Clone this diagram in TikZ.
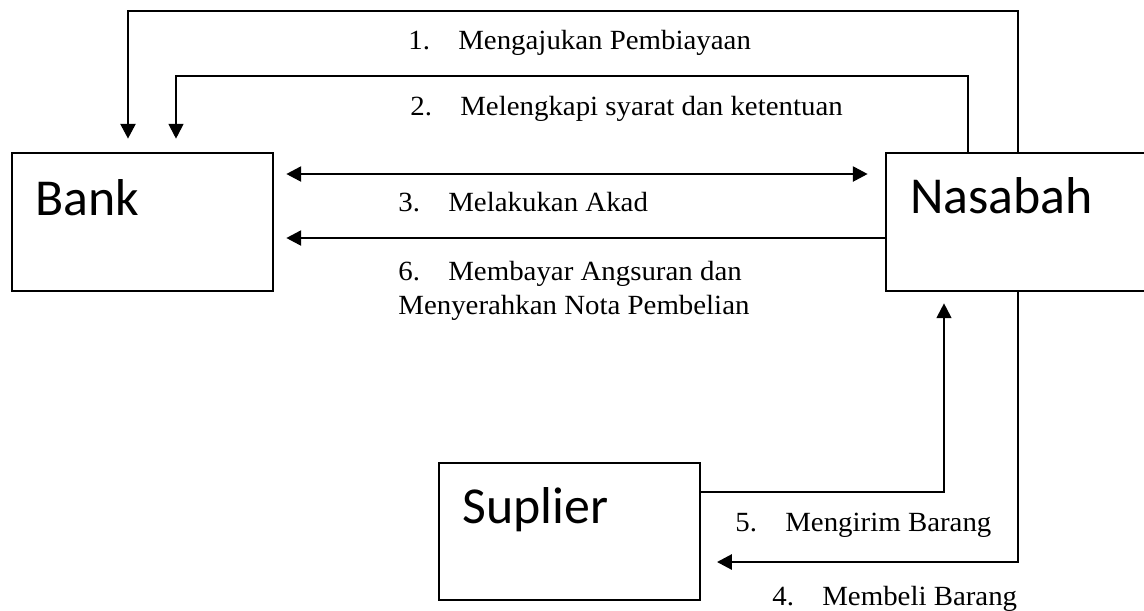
\documentclass[tikz,border=0pt]{standalone}
\usepackage{fontspec}
\newfontfamily\boxfont{Carlito}
\newfontfamily\lblfont{Liberation Serif}[FakeStretch=1.04]
\usetikzlibrary{arrows.meta}
\newcommand{\steplbl}[2]{\makebox[1cm][l]{#1}#2}

\begin{document}
\begin{tikzpicture}[x=0.02cm, y=-0.02cm, >={Triangle[length=8.5pt,width=8.5pt]}]
  \tikzset{party/.style = {shape=rectangle, draw, line width=1.5pt, minimum width=5.22cm, minimum height=2.76cm, inner sep=0pt}} % kotak pihak
  \tikzset{partytext/.style = {anchor=base west, inner sep=0pt, font=\boxfont\fontsize{29.5pt}{35pt}\selectfont}}
  \tikzset{steptext/.style = {anchor=base west, inner sep=0pt, align=left, font=\lblfont\fontsize{15.8pt}{19.3pt}\selectfont}}
  \tikzset{flow/.style = {->, line width=1.1pt}}
  \tikzset{flowthick/.style = {->, line width=1.6pt}}

  \useasboundingbox (0,0) rectangle (1144,610);

  % kotak
  \node[party] (bank) at (142.5,222) {};
  \node[party, minimum width=5.3cm] (nasabah) at (1018.5,222) {};
  \node[party, line width=1.1pt, minimum height=2.74cm] (suplier) at (569.5,531.5) {};
  \node[partytext] (banktxt) at (35,215) {Bank};
  \node[partytext] (nasabahtxt) at (910,213) {Nasabah};
  \node[partytext] (supliertxt) at (462,523) {Suplier};

  % titik belok
  \coordinate (k1) at (1018,11);
  \coordinate (k1b) at (128,11);
  \coordinate (k2) at (968,76);
  \coordinate (k2b) at (176,76);
  \coordinate (k3) at (0,174);
  \coordinate (k6) at (0,238);
  \coordinate (k5) at (944,492);
  \coordinate (k4) at (1018,562);

  % panah
  \draw[flowthick, shorten >=0.26cm] (nasabah.north -| k1) -- (k1) -- (k1b) -- (bank.north -| k1b);
  \draw[flow, shorten >=0.26cm] (nasabah.north -| k2) -- (k2) -- (k2b) -- (bank.north -| k2b);
  \draw[flowthick, <->, shorten <=0.24cm, shorten >=0.34cm] (bank.east |- k3) -- (nasabah.west |- k3);
  \draw[flowthick, shorten >=0.24cm] (nasabah.west |- k6) -- (bank.east |- k6);
  \draw[flow, shorten >=0.22cm] (suplier.east |- k5) -- (k5) -- (nasabah.south -| k5);
  \draw[flowthick, shorten >=0.32cm] (nasabah.south -| k4) -- (k4) -- (suplier.east |- k4);

  % keterangan
  \node[steptext] (lbl1) at (408,49) {\steplbl{1.}{Mengajukan Pembiayaan}};
  \node[steptext] (lbl2) at (410,115) {\steplbl{2.}{Melengkapi syarat dan ketentuan}};
  \node[steptext] (lbl3) at (398,211) {\steplbl{3.}{Melakukan Akad}};
  \node[steptext] (lbl6) at (398,314) {\steplbl{6.}{Membayar Angsuran dan}\\Menyerahkan Nota Pembelian};
  \node[steptext] (lbl5) at (735,531) {\steplbl{5.}{Mengirim Barang}};
  \node[steptext] (lbl4) at (772,605) {\steplbl{4.}{Membeli Barang}};

\end{tikzpicture}
\end{document}
